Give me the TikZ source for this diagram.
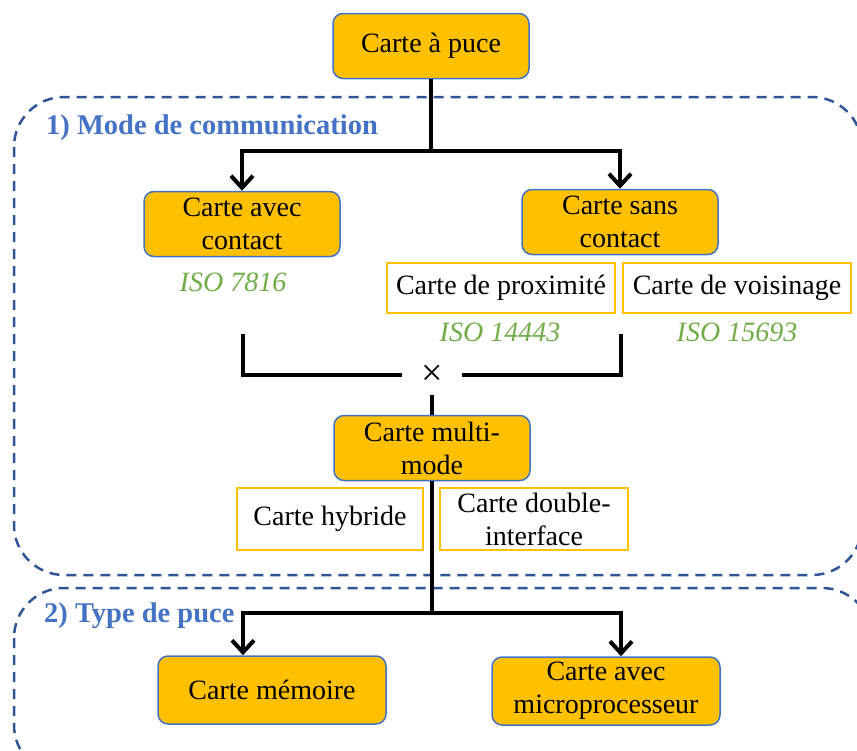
\documentclass[tikz,border=0pt]{standalone}
\usepackage{fontspec}
\setmainfont{Liberation Serif}
\usetikzlibrary{arrows.meta}
\definecolor{gold}{HTML}{FFC000}
\definecolor{edgeblue}{HTML}{4472C4}
\definecolor{frameblue}{HTML}{2F5597}
\definecolor{isogreen}{HTML}{70AD47}
\newcommand{\taillecarte}{\fontsize{28}{33}\selectfont}
\begin{document}
\begin{tikzpicture}[x=1pt,y=-1pt]
	\tikzstyle{carte} = [draw=edgeblue, line width=1.5pt, fill=gold, rounded corners=10pt, align=center, minimum width=196pt, minimum height=65pt, inner sep=0pt, font=\taillecarte]
	\tikzstyle{soustype} = [draw=gold, line width=2pt, fill=white, align=center, minimum width=228pt, minimum height=50pt, inner sep=0pt, font=\taillecarte]
	\tikzstyle{norme} = [text=isogreen, font=\taillecarte\itshape]
	\tikzstyle{titre} = [text=edgeblue, font=\fontsize{28.5}{33}\selectfont\bfseries, anchor=west, inner sep=0pt]
	\tikzstyle{cadre} = [draw=frameblue, line width=2.5pt, dash pattern=on 10pt off 7pt, rounded corners=50pt]
	\tikzstyle{trait} = [draw, black, line width=4pt]
	\tikzstyle{fleche} = [trait, -{Straight Barb[length=12pt,width=22pt]}]
	
	\useasboundingbox (0,0) rectangle (857,750);
	\clip (0,0) rectangle (857,750);
	
	% les deux cadres
	\draw [cadre] (14,97) rectangle (862,575);
	\draw [cadre] (14,588) rectangle (872,775);
	\node [titre] (mode) at (46,128) {1) Mode de communication};
	\node [titre] (type) at (44,616) {2) Type de puce};
	
	\node [carte] (puce) at (431,46) {Carte à puce};
	\node [carte] (avec) at (242,224) {Carte avec\\contact};
	\node [carte] (sans) at (620,222) {Carte sans\\contact};
	\node [norme] (iso7816) at (233,282) {ISO 7816};
	\node [soustype] (proxi) at (501,288) {Carte de proximité};
	\node [soustype] (voisin) at (737,288) {Carte de voisinage};
	\node [norme] (iso14443) at (500,332) {ISO 14443};
	\node [norme] (iso15693) at (737,332) {ISO 15693};
	\node [minimum width=60pt, minimum height=40pt, inner sep=0pt, font=\fontsize{38}{40}\selectfont] (croix) at (432,375) {×};
	\node [carte] (multi) at (432,448) {Carte multi-\\mode};
	\node [soustype, minimum width=186pt, minimum height=62pt] (hybride) at (330,519) {Carte hybride};
	\node [soustype, minimum width=188pt, minimum height=62pt] (double) at (534,519) {Carte double-\\interface};
	\node [carte, minimum width=228pt, minimum height=68pt] (memoire) at (272,690) {Carte mémoire};
	\node [carte, minimum width=228pt, minimum height=68pt] (micro) at (606,691) {Carte avec\\microprocesseur};
	
	% liaisons
	\coordinate (j1) at (431,151);
	\draw [trait] (puce) -- (j1);
	\draw [fleche] (j1) -| (avec);
	\draw [fleche] (j1) -| (sans);
	\coordinate (g1) at (243,334);
	\coordinate (d1) at (621,334);
	\draw [trait] (g1) |- (croix.west);
	\draw [trait] (d1) |- (croix.east);
	\draw [trait] (croix.south) -- (multi.north);
	\coordinate (j2) at (432,613);
	\draw [trait] (multi) -- (j2);
	\draw [fleche] (j2) -| ([xshift=-29pt]memoire.north);
	\draw [fleche] (j2) -| ([xshift=15pt]micro.north);
\end{tikzpicture}
\end{document}
